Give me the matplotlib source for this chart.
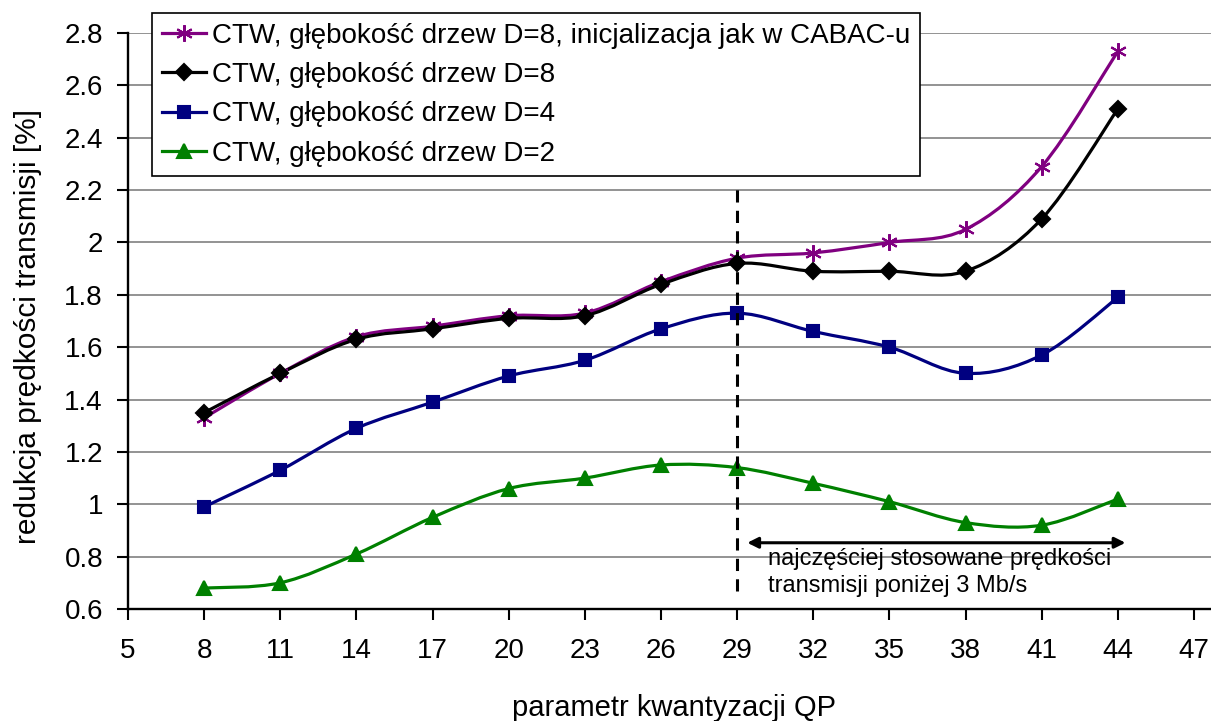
import numpy as np
import matplotlib.pyplot as plt
from matplotlib.path import Path
from matplotlib.patches import PathPatch
from matplotlib.lines import Line2D
from matplotlib.ticker import FormatStrFormatter

plt.rcParams['font.family'] = ['Liberation Sans', 'DejaVu Sans']

qp = [8, 11, 14, 17, 20, 23, 26, 29, 32, 35, 38, 41, 44]
d8_cabac = [1.33, 1.50, 1.64, 1.68, 1.72, 1.73, 1.85, 1.94, 1.96, 2.00, 2.05, 2.29, 2.73]
d8 = [1.35, 1.50, 1.63, 1.67, 1.71, 1.72, 1.84, 1.92, 1.89, 1.89, 1.89, 2.09, 2.51]
d4 = [0.99, 1.13, 1.29, 1.39, 1.49, 1.55, 1.67, 1.73, 1.66, 1.60, 1.50, 1.57, 1.79]
d2 = [0.68, 0.70, 0.81, 0.95, 1.06, 1.10, 1.15, 1.14, 1.08, 1.01, 0.93, 0.92, 1.02]

labels = ['CTW, głębokość drzew D=8, inicjalizacja jak w CABAC-u',
          'CTW, głębokość drzew D=8',
          'CTW, głębokość drzew D=4',
          'CTW, głębokość drzew D=2']
colors = ['#800080', '#000000', '#000080', '#008000']
markers = [(6, 2, 0), 'D', 's', '^']
msizes = [12, 8, 9, 10]


def smooth_path(x, y):
    # bezier segments through the points, like excel "smoothed line"
    pts = np.column_stack([x, y]).astype(float)
    n = len(pts)
    verts = [pts[0]]
    codes = [Path.MOVETO]
    for i in range(n - 1):
        p0 = pts[max(i - 1, 0)]
        p1 = pts[i]
        p2 = pts[i + 1]
        p3 = pts[min(i + 2, n - 1)]
        c1 = p1 + (p2 - p0) / 6.0
        c2 = p2 - (p3 - p1) / 6.0
        verts += [c1, c2, p2]
        codes += [Path.CURVE4] * 3
    return Path(verts, codes)


fig = plt.figure(figsize=(12.11, 7.21), dpi=100, facecolor='white')
ax = fig.add_axes((128/1211, 1-609/721, 1-128/1211, (609-33)/721))

ax.set_xlim(5, 47.67)
ax.set_ylim(0.6, 2.8)
ax.set_xticks(np.arange(5, 48, 3))
ax.set_yticks(np.arange(0.6, 2.81, 0.2))
ax.yaxis.set_major_formatter(FormatStrFormatter('%g'))
ax.yaxis.grid(True, color='#808080', lw=1.2)
ax.set_axisbelow(True)
for s in ['top', 'right']:
    ax.spines[s].set_visible(False)
for s in ['left', 'bottom']:
    ax.spines[s].set_linewidth(1.7)
ax.tick_params(axis='both', direction='out', length=8, width=1.5, labelsize=20)
ax.tick_params(axis='x', pad=13)
ax.tick_params(axis='y', pad=10)

series = [d8_cabac, d8, d4, d2]
handles = []
for vals, c, m, ms, lab in zip(series, colors, markers, msizes, labels):
    ax.add_patch(PathPatch(smooth_path(qp, vals), fc='none', ec=c, lw=2.3, zorder=3))
    ax.plot(qp, vals, ls='none', marker=m, ms=ms, color=c, mec=c, mew=1.5, zorder=4)
    handles.append(Line2D([], [], color=c, lw=2.3, marker=m, ms=ms, mew=1.5))

# vertical dashed line and arrow
ax.plot([29, 29], [0.67, 2.23], ls=(0, (4, 2.7)), color='black', lw=2.2, zorder=5)
ax.annotate('', xy=(44.3, 0.853), xytext=(29.4, 0.853),
            arrowprops=dict(arrowstyle='<|-|>', color='black', lw=2.2,
                            mutation_scale=16, shrinkA=0, shrinkB=0))
ax.text(30.2, 0.833, 'najczęściej stosowane prędkości\ntransmisji poniżej 3 Mb/s',
        fontsize=17, va='top', ha='left', linespacing=1.28, zorder=6)

ax.set_xlabel('parametr kwantyzacji QP', fontsize=21)
ax.xaxis.set_label_coords(0.504, -0.148)
ax.set_ylabel('redukcja prędkości transmisji [%]', fontsize=21.5)
ax.yaxis.set_label_coords(-0.0794, 0.49)

leg = fig.legend(handles, labels, loc='upper left',
                 bbox_to_anchor=(152/1211, 1-13/721), bbox_transform=fig.transFigure,
                 fontsize=20, frameon=True, fancybox=False, edgecolor='black',
                 framealpha=1, handlelength=1.6, handletextpad=0.2,
                 labelspacing=0.48, borderpad=0.35, borderaxespad=0)
leg.get_frame().set_linewidth(1.2)

fig.savefig('out.png', dpi=100, facecolor='white')
